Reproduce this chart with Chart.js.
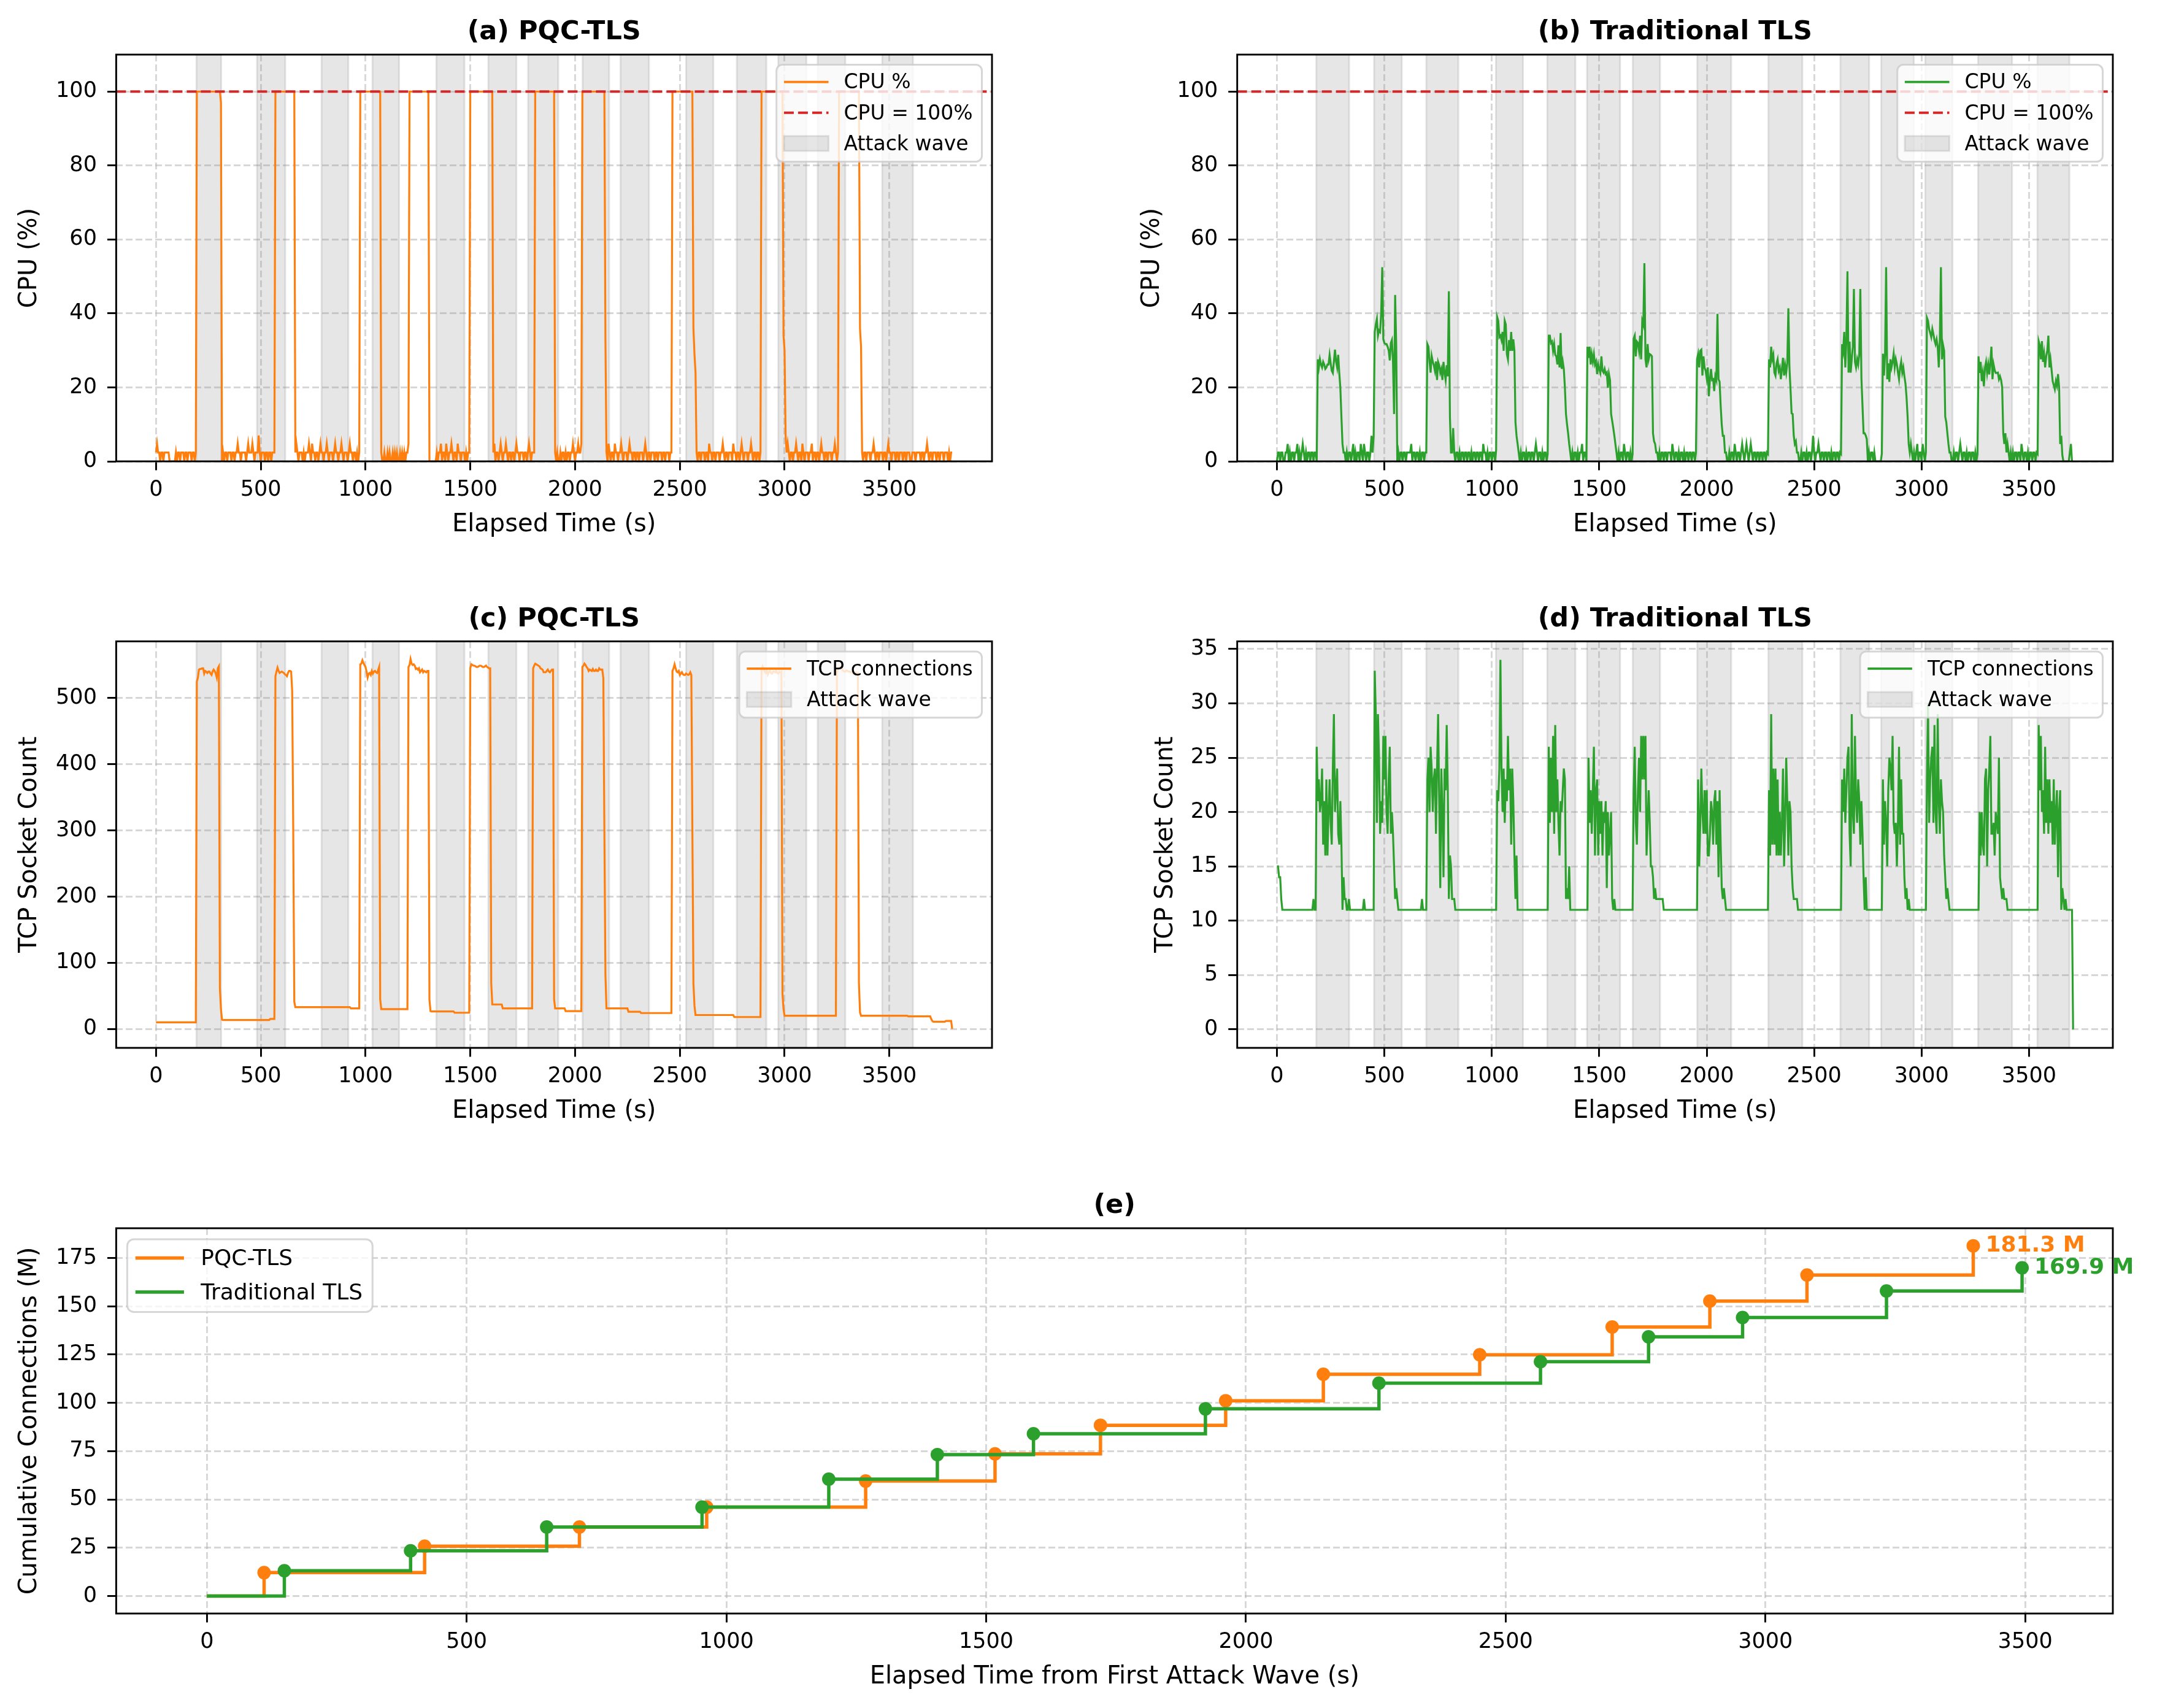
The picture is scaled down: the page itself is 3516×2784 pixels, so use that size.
<!DOCTYPE html>
<html lang="en">
<head>
<meta charset="UTF-8">
<title>PQC-TLS vs Traditional TLS under attack waves</title>
<script src="https://cdn.jsdelivr.net/npm/chart.js"></script>
<style>
  html, body { margin: 0; padding: 0; background: #fff; }
  #page { position: relative; width: 3516px; height: 2784px; overflow: hidden; }
  canvas { position: absolute; }
</style>
</head>
<body>
<div id="page">
  <canvas id="panelA"></canvas>
  <canvas id="panelB"></canvas>
  <canvas id="panelC"></canvas>
  <canvas id="panelD"></canvas>
  <canvas id="panelE"></canvas>
</div>

<script>
// samples are every 5 s; each chunk is [start time (s), values...]
const STEP = 5;

// attack wave windows (s)
const pqcWaves = [[193,311],[482,617],[790,918],[1033,1160],[1338,1472],[1586,1720],[1776,1920],
                  [2036,2163],[2217,2353],[2530,2660],[2772,2913],[2970,3104],[3158,3290],[3466,3613]];
const tradWaves = [[183,336],[452,581],[695,844],[1019,1145],[1258,1389],[1443,1597],[1656,1783],
                   [1956,2114],[2287,2445],[2622,2756],[2812,2964],[3017,3144],[3263,3421],[3539,3688]];

// tick labels and axis limits
const timeTicks = [0, 500, 1000, 1500, 2000, 2500, 3000, 3500];
const cpuTicks = [0, 20, 40, 60, 80, 100];
const pqcTcpTicks = [0, 100, 200, 300, 400, 500];
const tradTcpTicks = [0, 5, 10, 15, 20, 25, 30, 35];
const cumTicks = [0, 25, 50, 75, 100, 125, 150, 175];
const pqcTimeLim = [-190, 3990];
const tradTimeLim = [-185, 3890];
const cpuLim = [0, 110];
const pqcTcpLim = [-28.6, 585.7];
const tradTcpLim = [-1.7, 35.7];
const cumTimeLim = [-174.7, 3668.7];
const cumLim = [-9.07, 190.4];
const cpuCeiling = 100;

// (a) PQC-TLS CPU %
const pqcCpu = [
  [0, [2.4,4.8,2.4,2.4,0,2.4,2.4,0,2.4,2.4, 2.4,2.4,2.4,0,0,0,0,0,0,2.4, 0,2.4,2.4,0,2.4,2.4,2.4,0,2.4,2.4, 0,2.4,2.4,2.4,0,2.4,2.4,0,2.4]],
  [195, [100]], [305, [100,97]],
  [315, [0,2.4,0,2.4,2.4,0,2.4,2.4,2.4,0, 2.4,2.4,0,2.4,2.4,4.8,2.4,2.4,0,2.4, 2.4,2.4,2.4,0,2.4,4.8,2.4,2.4,2.4,4.8, 2.4,0,2.4,2.4,2.4,7,2.4,0,2.4,2.4, 2.4,0,2.4,2.4,0,2.4,2.4,0,2.4,2.4, 2.4]],
  [570, [100]], [660, [100]],
  [665, [2.4,4.8,2.4,0,2.4,2.4,2.4,0,2.4,0, 2.4,2.4,2.4,4.8,2.4,0,4.8,2.4,2.4,0, 2.4,2.4,0,2.4,4.8,2.4,2.4,0,2.4,2.4, 4.8,2.4,0,2.4,2.4,2.4,0,2.4,4.8,2.4, 2.4,0,2.4,2.4,4.8,2.4,0,2.4,2.4,2.4, 0,2.4,4.8,2.4,2.4,0,2.4,2.4,0,2.4, 0,2.4]],
  [975, [100]], [1070, [100]],
  [1075, [2.4,0,0,2.4,0,0,2.4,0,2.4,0, 0,2.4,0,2.4,0,2.4,0,0,2.4,0, 2.4,0,2.4,0,2.4,2.4,4.8]],
  [1210, [100]], [1300, [100]],
  [1305, [0,0,0,0,0,0,0,2.4,0,2.4, 2.4,4.8,0,2.4,2.4,0,4.8,2.4,0,2.4, 2.4,4.8,2.4,0,2.4,2.4,0,4.8,2.4,2.4, 0,2.4,2.4,2.4,0,2.4,0,2.4,2.4]],
  [1500, [100]], [1605, [100]],
  [1610, [2.4,4.8,0,2.4,2.4,0,2.4,4.8,2.4,0, 2.4,2.4,4.8,2.4,0,2.4,2.4,0,2.4,2.4, 0,2.4,4.8,2.4,2.4,0,2.4,2.4,2.4,0, 2.4,2.4,0,2.4,4.8,2.4,0,2.4,2.4,2.4]],
  [1810, [100]], [1900, [100]],
  [1905, [2.4,0,2.4,0,0,2.4,0,2.4,2.4,0, 2.4,0,2.4,2.4,0,2.4,2.4,4.8,2.4,0, 2.4,2.4,4.8,2.4,2.4,4.8]],
  [2035, [100]], [2140, [100,33]],
  [2150, [2.4,0,4.8,2.4,0,2.4,2.4,0,4.8,2.4, 2.4,0,2.4,2.4,4.8,2.4,0,2.4,2.4,2.4, 0,2.4,4.8,2.4,2.4,0,2.4,2.4,0,2.4, 2.4,0,2.4,2.4,2.4,0,2.4,4.8,2.4,0, 2.4,2.4,0,2.4,2.4,2.4,0,2.4,2.4,0, 2.4,2.4,2.4,0,2.4,2.4,0,2.4,2.4,2.4, 0,2.4,2.4]],
  [2465, [100]], [2560, [100,36,29,24]],
  [2580, [2.4,0,2.4,2.4,0,2.4,2.4,2.4,0,2.4, 2.4,0,4.8,2.4,2.4,0,2.4,2.4,0,2.4, 2.4,2.4,0,2.4,2.4,4.8,2.4,0,2.4,2.4, 0,2.4,2.4,2.4,0,4.8,2.4,2.4,0,2.4, 2.4,0,2.4,4.8,2.4,0,2.4,2.4,2.4,0, 2.4,2.4,4.8,2.4,0,2.4,2.4,0,2.4,2.4, 0,2.4]],
  [2890, [100]], [2990, [100,34,30,7]],
  [3010, [2.4,4.8,2.4,0,2.4,2.4,0,2.4,2.4,4.8, 2.4,0,2.4,2.4,0,4.8,2.4,0,2.4,2.4, 2.4,0,2.4,2.4,4.8,0,2.4,2.4,0,2.4, 2.4,0,2.4,4.8,2.4,2.4,0,2.4,2.4,0, 2.4,2.4,2.4,0,2.4,2.4,4.8,2.4,0,2.4]],
  [3260, [100]], [3355, [100,36,31]],
  [3370, [2.4,0,2.4,2.4,0,2.4,2.4,2.4,0,2.4, 2.4,4.8,2.4,0,2.4,2.4,0,2.4,2.4,2.4, 0,2.4,2.4,0,2.4,4.8,2.4,2.4,0,2.4, 2.4,2.4,0,2.4,2.4,0,2.4,2.4,2.4,0, 2.4,2.4,0,2.4,2.4,2.4,0,0,2.4,2.4, 2.4,0,2.4,2.4,2.4,2.4,0,2.4,2.4,0, 2.4,2.4,4.8,2.4,0,2.4,2.4,0,2.4,2.4, 2.4,0,2.4,2.4,0,2.4,2.4,2.4,0,2.4, 2.4,2.4,0,2.4,0,2.4,2.4]]
];

// (b) Traditional TLS CPU %
const tradCpu = [
  [0, [0,2.4,2.4,0,2.4,2.4,0,0,2.4,2.4, 4.7,0,2.4,0,2.4,2.4,0,2.4,2.4,4.7, 0,2.4,0,2.4,4.7,2.4,0,2.4,0,2.4, 2.4,0,2.4,2.4,0,2.4,2.4,0]],
  [190, [27.6,25.4,27.6,26.2,25.4,26.9,26.2,25,25.4,26.2, 26.2,28.8,26.5,24.5,23.9,27,30.2,27,25.4,28.8, 23.9,19.9,12,4.7,2.4]],
  [315, [2.4,0,2.4,0,2.4,2.4,0,2.4,4.7,0, 2.4,0,2.4,2.4,0,4.7,2.4,0,4.7,2.4, 0,2.4,2.4,0,2.4,6.9,2.4]],
  [450, [6.9,35,37,38.5,34,35.4,35,40,52.5,33, 32,31.7,31.7,31,30,27.3,32,32.8,26.9,12.8, 45,31.4,0]],
  [565, [2.4,0,2.4,2.4,0,2.4,2.4,0,2.4,2.4, 2.4,2.4,4.7,0,2.4,2.4,0,2.4,2.4,0, 2.4,0,2.4,2.4,0,2.4,2.4]],
  [700, [31.7,31,27,24,28.5,27,26,24.5,27,22, 26.9,26,24,25,22,26.9,24,22,26,23, 46,12,2.4,2.4,9,2.4]],
  [830, [0,2.4,2.4,0,2.4,0,2.4,2.4,0,2.4, 2.4,0,2.4,2.4,0,2.4,0,2.4,2.4,0, 2.4,2.4,0,2.4,2.4,0,4.7,2.4,2.4,0, 2.4,0,2.4,2.4,0,2.4,2.4,0,3]],
  [1025, [39,38,33.6,34,32.8,35,29.9,38,37,29, 27.6,32.8,29.9,35,29.9,33,30,10.6,6.9,4.7, 2.4,0]],
  [1135, [2.4,0,2.4,2.4,0,2.4,0,2.4,2.4,0, 2.4,2.4,0,2.4,4.7,2.4,0,2.4,2.4,0, 2.4,0,2.4,2.4,0,2]],
  [1265, [34,34,32,32.4,29.9,31.7,28.8,28.4,26.2,31.4, 25.4,34.7,25,27,25,20,12.8,10,7.6,4.7, 2.4,0]],
  [1375, [2.4,0,2.4,2.4,0,2.4,0,2.4,2.4,4.7, 0,2.4,2.4,0]],
  [1445, [31,28,31,26.2,29,27,29,26.2,27,23.6, 26.2,25,24,28.4,24.5,24,25,23.6,24,19.9, 23.6,22,12.8,11,9.1,7,4.7,2.4,0,2.4]],
  [1595, [0,2.4,2.4,0,4.7,2.4,0,2.4,2.4,0, 2.4,0,2]],
  [1660, [33.2,34,28.4,32.4,32,29.9,34,27.6,38,37, 53.6,27.6,25.4,31.7,27.6,29,28.8,28.4,7.6,5.4, 4.7,2.4,2.4,0]],
  [1780, [2.4,0,2.4,2.4,0,2.4,2.4,0,2.4,2.4, 2.4,0,4.7,2.4,0,2.4,2.4,0,2.4,0, 2.4,2.4,0,2.4,0,2.4,2.4,0,2.4,2.4, 0,2.4,2.4,0,2.4]],
  [1955, [27.6,29,25.4,29.9,30.2,23.2,28.4,25.4,24.5,22.5, 25.4,17.6,22.2,25,22,22.2,19,23,22,39.9, 22.2,21.5,15,9.9,6.9,6.9,2.4,2.4,0,0]],
  [2105, [2.4,0,2.4,2.4,0,4.7,2.4,0,2.4,2.4, 0,2.4,4.7,2.4,0,2.4,4.7,2.4,0,2.4, 4.7,2.4,0,2.4,2.4,0,2.4,2.4,0,2.4, 2.4,0,2.4,2.4,0,2.4,2]],
  [2290, [27.6,25.4,31,27.6,28.8,24,23.2,26.5,27.6,24.5, 25.4,22.2,25,28,23.2,26,24,26.5,41.4,25.4, 19.5,13,12.8,7,4.7,5.4,2.4,2.4,0,0]],
  [2440, [2.4,0,2.4,2.4,0,2.4,0,2.4,2.4,0, 2.4,6.9,2.4,0,2.4,2.4,4.7,2.4,0,2.4, 2.4,0,2.4,2.4,0,2.4,2.4,0,2.4,0, 2.4,2.4,0,2.4,2.4,0,2.4,2]],
  [2630, [31.7,29.9,35,25.4,32.8,51.4,24,32.4,24,27.6, 31,46.6,26.9,25.4,27.6,26.2,29,46.6,22.5,15, 7.6,7.6,7,6,0]],
  [2755, [2.4,0,2.4,2.4,0,2.4,0,0,0,0, 0,0,2]],
  [2820, [29.1,23.2,29.1,52.5,22.2,26.5,21.5,27.6,25.4,26.9, 29.1,25.4,27.6,26.2,24,22.2,25.4,27,24,25.4, 23,21,17.3,12,4.7,2.4,4.7,2.4,0]],
  [2965, [2.4,0,2.4,4.7,0,2.4,2.4,0,4.7,2.4, 0,2.4]],
  [3025, [38.8,38,35.8,34.7,33.6,35.8,34.4,32.8,31.7,33, 31,25.4,33,52.5,27.6,31.4,29.9,12.1,10.6,7.6, 4.7,2.4,2.4,0,0]],
  [3150, [2.4,0,2.4,2.4,0,2.4,4.7,2.4,0,2.4, 2.4,0,2.4,0,2.4,2.4,0,2.4,2.4,0, 2.4,0,2]],
  [3265, [28.4,23.9,26.9,21.7,23.9,20.3,25.4,26.9,23.9,26.2, 23.5,27,31,22.2,26.2,24.7,23.9,23.9,24,22.2, 23,22,20,7.6,4.7,7.6,2.4,4.7,2.4,0, 2.4,0]],
  [3425, [2.4,0,2.4,2.4,0,2.4,2.4,0,4.7,2.4, 0,2.4,2.4,0,2.4,0,2.4,2.4,0,2.4, 2.4,0,2.4,2]],
  [3545, [32.5,31.4,27.6,32.5,26.9,29.1,25.4,28.4,30,34, 25.4,27.6,24.7,21.7,20.6,19.5,21.7,20.5,23.6,20, 4.7,6.9,1.7,0,0,0,0,0,0,2.4, 4.7,0]]
];

// (c) PQC-TLS TCP socket count
const pqcTcp = [
  [0, [10]], [190, [10]],
  [195, [525,531,543,544,544,545,545,537,541,540, 538,540,540,537,535,540,543,541,537,531, 545,548,61,30,14]],
  [320, [13.5]], [540, [13.5,15]], [565, [15]],
  [570, [533,540,546,541,538,539,540,539,538,536, 535,533,538,541,541,540,510,300,41,33]],
  [670, [33]], [925, [33,31]], [970, [31]],
  [975, [551,552,557,553,550,547,540,531,537,538, 535,541,537,540,541,539,538,542,547,45, 30]],
  [1080, [30]], [1200, [30]],
  [1205, [547,550,559,552,550,551,549,544,545,543, 545,539,541,543,539,541,540,539,541,541, 45,27]],
  [1315, [26.5]], [1420, [26.5,24.5]], [1495, [24.5]],
  [1500, [545,551,550,549,549,548,547,547,548,549, 549,548,547,547,548,549,547,546,545,545, 69,37]],
  [1610, [37]], [1650, [37,31]], [1795, [31]],
  [1800, [545,549,552,551,550,549,548,545,544,543, 539,539,539,541,543,540,539,541,543,543, 45,31]],
  [1910, [31]], [1950, [31,27]], [2030, [27]],
  [2035, [547,549,552,550,547,545,541,543,542,541, 544,541,541,543,541,541,545,543,543,543, 530,300,82,31]],
  [2155, [31]], [2250, [31,26]], [2310, [26,24]], [2460, [24]],
  [2465, [541,545,551,545,540,539,541,535,537,539, 536,535,535,537,536,535,536,539,535,300, 69,35,21]],
  [2580, [21]], [2755, [21,18]], [2885, [18]],
  [2890, [543,548,545,540,538,542,536,540,541,538, 537,540,540,539,541,538,537,540,539,540, 53,30,20]],
  [3005, [20]], [3245, [20]],
  [3250, [540,543,545,547,546,543,541,540,540,542, 541,540,540,539,540,538,539,538,539,538, 538,69,25,20]],
  [3370, [20]], [3585, [20,19]], [3695, [19,15,12,11]], [3765, [11,12]], [3795, [12,0]]
];

// (d) Traditional TLS TCP socket count
const tradTcp = [
  [0, [15,15,14,14,12,11]],
  [165, [11,12,11]],
  [180, [11,26,21,23,20,21,24,17,21,16, 23,16,20,23,19,17,24,29,20,22, 24,18,17,21,17,11,14,12,12,11, 11,12,11]],
  [400, [11,12,11]], [445, [11]],
  [450, [11,33,29,19,29,25,18,21,19,27, 23,27,20,18,23,26,18,20,18,15, 12,13,12,11]],
  [670, [11,12,11]], [690, [11]],
  [695, [11,23,25,20,26,24,20,23,24,18, 24,29,21,13,24,20,14,24,22,28, 22,12,16,15,12,12,12,11]],
  [1015, [11]],
  [1020, [11,22,21,24,34,24,20,24,19,23, 21,27,22,24,17,24,21,16,12,16, 11]],
  [1255, [11]],
  [1260, [11,26,19,25,20,27,18,28,20,23, 19,16,21,20,22,24,23,12,13,12, 15,11]],
  [1440, [11]],
  [1445, [11,25,19,22,18,22,26,16,22,23, 16,21,18,21,16,20,19,21,13,20, 16,18,20,12,11,12,11,11]],
  [1650, [11]],
  [1655, [11,22,26,19,17,22,25,20,27,23, 27,23,27,16,19,22,19,15,15,14, 12,13,12,12,12,12,12,12,12,11]],
  [1950, [11]],
  [1955, [11,23,15,19,24,20,18,22,18,22, 16,16,18,21,20,17,21,22,17,21, 14,22,17,13,12,13,12,11]],
  [2285, [11]],
  [2290, [22,16,29,17,24,17,24,16,23,16, 20,16,19,24,15,19,25,21,16,21, 20,15,13,12,12,12,12,11]],
  [2620, [11]],
  [2625, [11,23,20,24,19,22,25,26,18,15, 29,20,18,27,21,19,23,21,17,21, 18,14,11,14,11]],
  [2810, [11]],
  [2815, [11,23,17,21,19,15,22,25,24,22, 27,19,18,19,15,19,26,17,23,18, 18,14,12,13,11,12,11,11]],
  [3015, [11]],
  [3020, [11,23,30,19,23,25,26,19,28,20, 18,29,21,18,23,21,20,16,14,12, 13,12,11]],
  [3260, [11]],
  [3265, [11,20,16,20,17,16,23,24,15,22, 24,27,18,18,19,16,20,19,18,25, 14,13,12,13,12,12,12,11,11]],
  [3535, [11]],
  [3540, [11,28,22,27,20,22,18,26,19,23, 18,23,19,21,17,23,17,20,22,14, 20,22,11,13,12,11,12,11,11,11, 11,11,11,0]]
];

// (e) cumulative connections (millions) at the end of each wave
const pqcCumT  = [0, 110, 419, 717, 962, 1268, 1517, 1720, 1961, 2149, 2450, 2705, 2893, 3080, 3400];
const pqcCumM  = [0, 12.1, 25.8, 35.7, 46, 59.5, 73.6, 88.4, 101.1, 114.8, 124.9, 139.3, 152.7, 166.2, 181.3];
const tradCumT = [0, 149, 392, 654, 953, 1197, 1406, 1591, 1922, 2256, 2567, 2775, 2956, 3233, 3494];
const tradCumM = [0, 13.1, 23.4, 35.7, 46, 60.5, 73.2, 84, 96.9, 110.2, 121.3, 134.2, 144.2, 157.9, 169.9];

const FONT = "'DejaVu Sans', sans-serif";
const ORANGE = '#ff7f0e', GREEN = '#2ca02c', RED = '#d62728';
const GRID = 'rgba(176,176,176,0.5)';
const SHADE = 'rgba(128,128,128,0.2)';

function expand(chunks) {
  const pts = [];
  chunks.forEach(([t0, vals]) => vals.forEach((v, i) => pts.push({ x: t0 + i * STEP, y: v })));
  return pts;
}

function drawLegend(chart, L) {
  const { ctx, chartArea: a } = chart;
  const em = L.size;
  ctx.save();
  ctx.font = `${em}px ${FONT}`;
  const textW = Math.max(...L.items.map(it => ctx.measureText(it.text).width));
  const padL = 0.37 * em, handle = 2.2 * em, gap = 0.76 * em, padR = 0.45 * em;
  const rowH = L.rowH * em;
  const w = padL + handle + gap + textW + padR;
  const h = 0.85 * em + (L.items.length - 1) * rowH + 0.9 * em;
  const left = L.corner === 'tl' ? a.left + 0.5 * em : a.right - 0.5 * em - w;
  const top = a.top + 0.5 * em;
  ctx.beginPath();
  ctx.roundRect(left, top, w, h, 0.3 * em);
  ctx.fillStyle = 'rgba(255,255,255,0.8)';
  ctx.fill();
  ctx.lineWidth = 3;
  ctx.strokeStyle = 'rgba(204,204,204,0.8)';
  ctx.stroke();
  L.items.forEach((it, i) => {
    const cy = top + 0.85 * em + i * rowH;
    const x0 = left + padL;
    if (it.kind === 'patch') {
      ctx.fillStyle = SHADE;
      ctx.fillRect(x0, cy - 0.37 * em, handle, 0.74 * em);
      ctx.strokeStyle = SHADE;
      ctx.lineWidth = 3;
      ctx.strokeRect(x0, cy - 0.37 * em, handle, 0.74 * em);
    } else {
      ctx.beginPath();
      ctx.setLineDash(it.dash || []);
      ctx.strokeStyle = it.color;
      ctx.lineWidth = it.width;
      ctx.moveTo(x0, cy);
      ctx.lineTo(x0 + handle, cy);
      ctx.stroke();
      ctx.setLineDash([]);
    }
    ctx.fillStyle = '#000';
    ctx.textAlign = 'left';
    ctx.textBaseline = 'middle';
    ctx.fillText(it.text, x0 + handle + gap, cy + 0.07 * em);
  });
  ctx.restore();
}

// shaded waves, box spines, end labels and the framed legend
const decor = {
  id: 'decor',
  beforeDatasetsDraw(chart, args, opts) {
    if (!opts.spans) return;
    const { ctx, chartArea: a, scales: { x } } = chart;
    ctx.save();
    ctx.beginPath();
    ctx.rect(a.left, a.top, a.width, a.height);
    ctx.clip();
    ctx.fillStyle = SHADE;
    ctx.strokeStyle = SHADE;
    ctx.lineWidth = 3;
    opts.spans.forEach(([s, e]) => {
      const x0 = x.getPixelForValue(s), x1 = x.getPixelForValue(e);
      ctx.fillRect(x0, a.top, x1 - x0, a.height);
      ctx.beginPath();
      ctx.moveTo(x0, a.top); ctx.lineTo(x0, a.bottom);
      ctx.moveTo(x1, a.top); ctx.lineTo(x1, a.bottom);
      ctx.stroke();
    });
    ctx.restore();
  },
  afterDatasetsDraw(chart, args, opts) {
    const { ctx, chartArea: a } = chart;
    ctx.save();
    ctx.strokeStyle = '#000';
    ctx.lineWidth = 2.9;
    ctx.strokeRect(a.left, a.top, a.width, a.height);
    if (opts.endLabels) {
      ctx.font = `bold 36px ${FONT}`;
      ctx.textAlign = 'left';
      ctx.textBaseline = 'middle';
      chart.data.datasets.forEach((ds, i) => {
        const pts = chart.getDatasetMeta(i).data;
        const p = pts[pts.length - 1];
        const v = ds.data[ds.data.length - 1].y;
        ctx.fillStyle = ds.borderColor;
        ctx.fillText(v.toFixed(1) + ' M', p.x + 20, p.y);
      });
    }
    ctx.restore();
  },
  afterDraw(chart, args, opts) {
    if (opts.legend) drawLegend(chart, opts.legend);
  }
};

function scaleOpts(kind, lim, ticks, title, size, titlePad) {
  return {
    type: 'linear',
    position: kind === 'x' ? 'bottom' : 'left',
    bounds: 'data',
    min: lim[0],
    max: lim[1],
    afterBuildTicks: s => { s.ticks = ticks.map(v => ({ value: v })); },
    afterFit: s => { if (kind === 'x') s.height = size; else s.width = size; },
    grid: { color: GRID, lineWidth: 2.9, drawTicks: true, tickLength: 14.5, tickColor: '#000', tickWidth: 2.9, tickBorderDash: [] },
    border: { display: false, dash: [11, 5] },
    ticks: {
      color: '#000', font: { family: FONT, size: 35 }, padding: kind === 'x' ? 11 : 17,
      autoSkip: false, maxRotation: 0, minRotation: 0, callback: v => String(v)
    },
    title: {
      display: true, text: title, color: '#000', font: { family: FONT, size: 40, lineHeight: 1.2 },
      padding: kind === 'x' ? { top: 0, bottom: 0 } : { top: titlePad, bottom: 0 }
    }
  };
}

// box = canvas rect, area = plot rect (page pixels)
function panel(id, box, area, cfg) {
  const canvas = document.getElementById(id);
  canvas.width = box.w;
  canvas.height = box.h;
  canvas.style.left = box.x + 'px';
  canvas.style.top = box.y + 'px';
  const titleLH = 43 * 1.2;
  const titleTop = cfg.titleMid - box.y - titleLH / 2;
  const titleBottom = area.t - box.y - titleTop - titleLH;
  return new Chart(canvas, {
    type: 'line',
    data: { datasets: cfg.datasets },
    options: {
      responsive: false,
      animation: false,
      devicePixelRatio: 1,
      events: [],
      layout: { autoPadding: false, padding: { left: 0, top: 0, right: box.x + box.w - area.r, bottom: 0 } },
      plugins: {
        legend: { display: false },
        tooltip: { enabled: false },
        title: {
          display: true, text: cfg.title, fullSize: false, color: '#000',
          font: { family: FONT, size: 43, weight: 'bold', lineHeight: 1.2 },
          padding: { top: titleTop, bottom: titleBottom }
        },
        decor: { spans: cfg.spans, legend: cfg.legend, endLabels: cfg.endLabels }
      },
      scales: {
        x: scaleOpts('x', cfg.xLim, cfg.xTicks, cfg.xTitle, box.y + box.h - area.b),
        y: scaleOpts('y', cfg.yLim, cfg.yTicks, cfg.yTitle, area.l - box.x, cfg.yTitleX - box.x - 24)
      }
    },
    plugins: [decor]
  });
}

function seriesLine(chunks, color) {
  return { data: expand(chunks), borderColor: color, borderWidth: 3.2, pointRadius: 0, fill: false, order: 1 };
}
function ceilingLine(lim) {
  return {
    data: [{ x: lim[0], y: cpuCeiling }, { x: lim[1], y: cpuCeiling }],
    borderColor: RED, borderWidth: 4, borderDash: [16, 7], pointRadius: 0, fill: false, order: 0
  };
}
function cpuLegend(color) {
  return { size: 33, rowH: 1.52, corner: 'tr', items: [
    { kind: 'line', color: color, width: 3.8, text: 'CPU %' },
    { kind: 'line', color: RED, width: 4, dash: [16, 7], text: 'CPU = 100%' },
    { kind: 'patch', text: 'Attack wave' }
  ] };
}
function tcpLegend(color) {
  return { size: 33, rowH: 1.52, corner: 'tr', items: [
    { kind: 'line', color: color, width: 3.8, text: 'TCP connections' },
    { kind: 'patch', text: 'Attack wave' }
  ] };
}
function stepLine(ts, ms, color, order) {
  return {
    data: ts.map((t, i) => ({ x: t, y: ms[i] })),
    stepped: true, borderColor: color, backgroundColor: color, borderWidth: 5.5,
    pointRadius: c => (c.dataIndex === 0 ? 0 : 11), pointBackgroundColor: color, pointBorderWidth: 0,
    fill: false, order: order
  };
}

panel('panelA', { x: 0, y: 0, w: 1758, h: 880 }, { l: 189.4, t: 89, r: 1617, b: 752 }, {
  title: '(a) PQC-TLS', titleMid: 53.2, yTitleX: 49,
  xLim: pqcTimeLim, xTicks: timeTicks, xTitle: 'Elapsed Time (s)',
  yLim: cpuLim, yTicks: cpuTicks, yTitle: 'CPU (%)',
  spans: pqcWaves, legend: cpuLegend(ORANGE),
  datasets: [seriesLine(pqcCpu, ORANGE), ceilingLine(pqcTimeLim)]
});

panel('panelB', { x: 1758, y: 0, w: 1758, h: 880 }, { l: 2016.7, t: 89, r: 3444, b: 752 }, {
  title: '(b) Traditional TLS', titleMid: 53.2, yTitleX: 1879,
  xLim: tradTimeLim, xTicks: timeTicks, xTitle: 'Elapsed Time (s)',
  yLim: cpuLim, yTicks: cpuTicks, yTitle: 'CPU (%)',
  spans: tradWaves, legend: cpuLegend(GREEN),
  datasets: [seriesLine(tradCpu, GREEN), ceilingLine(tradTimeLim)]
});

panel('panelC', { x: 0, y: 940, w: 1758, h: 896 }, { l: 189.4, t: 1045.4, r: 1617, b: 1708 }, {
  title: '(c) PQC-TLS', titleMid: 1009.6, yTitleX: 49,
  xLim: pqcTimeLim, xTicks: timeTicks, xTitle: 'Elapsed Time (s)',
  yLim: pqcTcpLim, yTicks: pqcTcpTicks, yTitle: 'TCP Socket Count',
  spans: pqcWaves, legend: tcpLegend(ORANGE),
  datasets: [seriesLine(pqcTcp, ORANGE)]
});

panel('panelD', { x: 1758, y: 940, w: 1758, h: 896 }, { l: 2016.7, t: 1045.4, r: 3444, b: 1708 }, {
  title: '(d) Traditional TLS', titleMid: 1009.6, yTitleX: 1901,
  xLim: tradTimeLim, xTicks: timeTicks, xTitle: 'Elapsed Time (s)',
  yLim: tradTcpLim, yTicks: tradTcpTicks, yTitle: 'TCP Socket Count',
  spans: tradWaves, legend: tcpLegend(GREEN),
  datasets: [seriesLine(tradTcp, GREEN)]
});

panel('panelE', { x: 0, y: 1900, w: 3516, h: 858 }, { l: 189.4, t: 2002, r: 3444, b: 2630 }, {
  title: '(e)', titleMid: 1966.2, yTitleX: 49,
  xLim: cumTimeLim, xTicks: timeTicks, xTitle: 'Elapsed Time from First Attack Wave (s)',
  yLim: cumLim, yTicks: cumTicks, yTitle: 'Cumulative Connections (M)',
  endLabels: true,
  legend: { size: 36, rowH: 1.54, corner: 'tl', items: [
    { kind: 'line', color: ORANGE, width: 5.5, text: 'PQC-TLS' },
    { kind: 'line', color: GREEN, width: 5.5, text: 'Traditional TLS' }
  ] },
  datasets: [stepLine(pqcCumT, pqcCumM, ORANGE, 2), stepLine(tradCumT, tradCumM, GREEN, 1)]
});
</script>
</body>
</html>
